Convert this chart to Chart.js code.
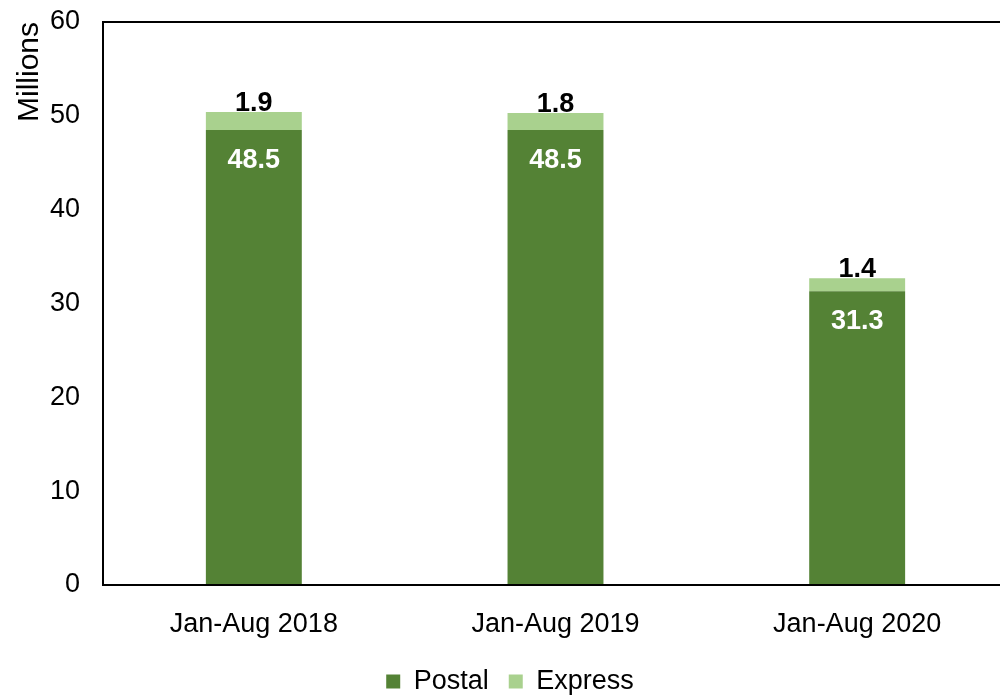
<!DOCTYPE html>
<html>
<head>
<meta charset="utf-8">
<script src="https://cdn.jsdelivr.net/npm/chart.js@4/dist/chart.umd.min.js"></script>
<style>
  html, body { margin: 0; padding: 0; overflow: hidden; background: #fff; }
  #wrap { position: absolute; left: 0; top: 0; width: 1008px; height: 695px; }
</style>
</head>
<body>
<div id="wrap"><canvas id="chart" width="1008" height="695"></canvas></div>
<script>
// Data (millions)
const periods = ['Jan-Aug 2018', 'Jan-Aug 2019', 'Jan-Aug 2020'];
const postal = [48.5, 48.5, 31.3];
const express = [1.9, 1.8, 1.4];
const yTicks = [0, 10, 20, 30, 40, 50, 60];

const FONT = '"Liberation Sans", Arial, sans-serif';

// draws the value labels: postal inside the bar top, express above the stack
const valueLabels = {
    id: 'valueLabels',
    afterDatasetsDraw(chart) {
        const ctx = chart.ctx;
        ctx.save();
        ctx.font = 'bold 27px ' + FONT;
        ctx.textAlign = 'center';
        ctx.textBaseline = 'alphabetic';
        chart.data.datasets.forEach((ds, i) => {
            const meta = chart.getDatasetMeta(i);
            meta.data.forEach((bar, j) => {
                const v = ds.data[j].toFixed(1);
                if (i === 0) {
                    ctx.fillStyle = '#fff';
                    ctx.fillText(v, bar.x, bar.y + 38);
                } else {
                    ctx.fillStyle = '#000';
                    ctx.fillText(v, bar.x, bar.y - 1);
                }
            });
        });
        ctx.restore();
    }
};

const ctx = document.getElementById('chart').getContext('2d');
const chart = new Chart(ctx, {
    type: 'bar',
    data: {
        labels: periods,
        datasets: [
            { label: 'Postal', data: postal, backgroundColor: '#548235', borderWidth: 0 },
            { label: 'Express', data: express, backgroundColor: '#a9d18e', borderWidth: 0 }
        ]
    },
    options: {
        responsive: false,
        animation: false,
        devicePixelRatio: 1,
        layout: { padding: { left: 12, top: 22, right: 0, bottom: -10 } },
        datasets: { bar: { barPercentage: 0.318, categoryPercentage: 1 } },
        plugins: {
            tooltip: { enabled: false },
            legend: {
                position: 'bottom',
                labels: {
                    boxWidth: 14,
                    boxHeight: 14,
                    padding: 20,
                    color: '#000',
                    font: { family: FONT, size: 27 }
                }
            }
        },
        scales: {
            x: {
                stacked: true,
                grid: { display: false },
                border: { color: '#000', width: 2 },
                ticks: { color: '#000', padding: 15, font: { family: FONT, size: 27 } },
                afterFit(scale) {
                    scale.height = 63;
                    scale.paddingLeft = 0;
                    scale.paddingRight = 0;
                }
            },
            y: {
                stacked: true,
                min: 0,
                max: 60,
                afterBuildTicks(scale) {
                    scale.ticks = yTicks.map(v => ({ value: v }));
                },
                grid: {
                    drawTicks: false,
                    lineWidth: 2,
                    color: c => (c.tick && c.tick.value === 60 ? '#000' : 'rgba(0,0,0,0)')
                },
                border: { color: '#000', width: 2 },
                ticks: { color: '#000', padding: 23, font: { family: FONT, size: 27 } },
                title: {
                    display: true,
                    text: 'Millions',
                    align: 'end',
                    color: '#000',
                    padding: { top: 0, bottom: 0 },
                    font: { family: FONT, size: 30 }
                },
                afterFit(scale) {
                    scale.width = 91;
                    scale.paddingTop = 0;
                    scale.paddingBottom = 0;
                }
            }
        }
    },
    plugins: [valueLabels]
});
</script>
</body>
</html>
